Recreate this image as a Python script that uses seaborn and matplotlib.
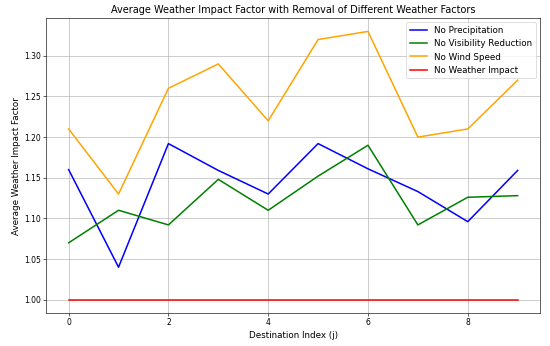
import numpy as np
import pandas as pd
import matplotlib
matplotlib.use("Agg")
import matplotlib.pyplot as plt
import seaborn as sns

dest_index = list(range(10))
no_precipitation = [1.16, 1.04, 1.192, 1.159, 1.13, 1.192, 1.161, 1.133, 1.096, 1.159]
no_visibility = [1.07, 1.11, 1.092, 1.148, 1.11, 1.152, 1.19, 1.092, 1.126, 1.128]
no_wind_speed = [1.21, 1.13, 1.26, 1.29, 1.22, 1.32, 1.33, 1.20, 1.21, 1.27]
no_weather = [1.0] * 10

series = {
    "No Precipitation": (no_precipitation, "blue"),
    "No Visibility Reduction": (no_visibility, "green"),
    "No Wind Speed": (no_wind_speed, "orange"),
    "No Weather Impact": (no_weather, "red"),
}

# drawn at a low dpi so the font sizes match the small reference
fig, ax = plt.subplots(figsize=(10, 6.291), dpi=55)
for label, (vals, color) in series.items():
    sns.lineplot(x=dest_index, y=vals, label=label, color=color, ax=ax, linewidth=2)

ax.set_title("Average Weather Impact Factor with Removal of Different Weather Factors", fontsize=12.7)
ax.set_xlabel("Destination Index (j)", fontsize=11.4)
ax.set_ylabel("Average Weather Impact Factor", fontsize=11.4)
ax.tick_params(labelsize=10)
ax.set_xticks([0, 2, 4, 6, 8])
ax.grid(True)
ax.legend(fontsize=11.4, loc="upper right")
plt.subplots_adjust(left=0.084, right=0.982, top=0.948, bottom=0.095)
plt.savefig("out.png", dpi=55)
